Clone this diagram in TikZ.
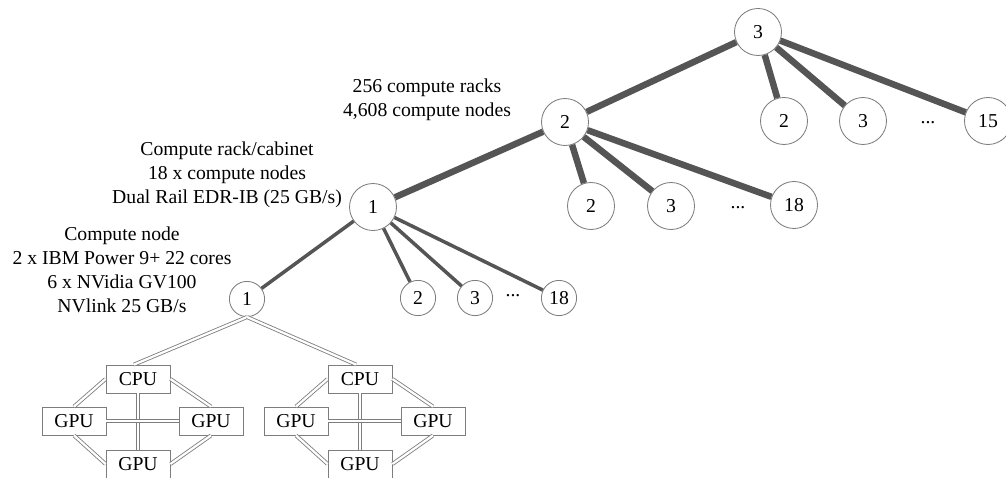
\documentclass[tikz,border=0pt]{standalone}
\usepackage{fontspec}
\setmainfont{Liberation Serif}
\usetikzlibrary{positioning}
\definecolor{linkc}{RGB}{85,85,85}
\definecolor{ringc}{RGB}{125,125,125}

\begin{document}
\begin{tikzpicture}
\tikzstyle{big}=[circle,draw=ringc,line width=0.6pt,minimum size=1.175cm,inner sep=0pt,font=\fontsize{14}{16}\selectfont];
\tikzstyle{small}=[circle,draw=ringc,line width=0.6pt,minimum size=0.88cm,inner sep=0pt,font=\fontsize{14}{16}\selectfont];
\tikzstyle{chip}=[draw=ringc,line width=0.6pt,minimum width=1.6cm,minimum height=0.7cm,inner sep=0pt,font=\fontsize{14}{16}\selectfont];
\tikzstyle{lbl}=[align=center,font=\fontsize{14}{17}\selectfont];
\tikzstyle{fat}=[draw=linkc,line width=4.6pt];
\tikzstyle{thin}=[draw=linkc,line width=2.5pt];
\tikzstyle{bus}=[draw=ringc,line width=0.6pt,double=white,double distance=1.6pt];

\useasboundingbox (0,0) rectangle (25.15,-11.925);

% switch levels
\node[big] (r3) at (18.95,-0.8) {3};
\node[big] (a2) at (19.6,-3.025) {2};
\node[big] (a3) at (21.575,-3.025) {3};
\node[lbl] (adots) at (23.2,-3.075) {...};
\node[big] (a15) at (24.7,-3.025) {15};

\node[big] (r2) at (14.125,-3.05) {2};
\node[big] (b2) at (14.775,-5.15) {2};
\node[big] (b3) at (16.775,-5.15) {3};
\node[lbl] (bdots) at (18.45,-5.2) {...};
\node[big] (b18) at (19.85,-5.125) {18};

\node[big] (r1) at (9.325,-5.175) {1};
\node[small] (c2) at (10.45,-7.45) {2};
\node[small] (c3) at (11.875,-7.45) {3};
\node[lbl] (cdots) at (12.825,-7.4) {...};
\node[small] (c18) at (13.975,-7.45) {18};

\node[small] (n1) at (6.175,-7.475) {1};

% labels
\node[lbl] (lab2) at (10.675,-2.5) {256 compute racks\\4,608 compute nodes};
\node[lbl] (lab1) at (5.675,-4.375) {Compute rack/cabinet\\18 x compute nodes\\Dual Rail EDR-IB (25 GB/s)};
\node[lbl] (lab0) at (3.05,-6.75) {Compute node\\2 x IBM Power 9+ 22 cores\\6 x NVidia GV100\\NVlink 25 GB/s};

% links
\foreach \t in {r2,a2,a3,a15}
  \draw[fat] (r3) -- (\t);
\foreach \t in {r1,b2,b3,b18}
  \draw[fat] (r2) -- (\t);
\foreach \t in {n1,c2,c3,c18}
  \draw[thin] (r1) -- (\t);

% sockets
\foreach \g/\x in {1/0,2/5.55}
{
  \node[chip] (cpu\g) at (3.45+\x,-9.475) {CPU};
  \node[chip] (gpul\g) at (1.85+\x,-10.525) {GPU};
  \node[chip] (gpur\g) at (5.275+\x,-10.525) {GPU};
  \node[chip] (gpub\g) at (3.45+\x,-11.6) {GPU};

  \draw[bus] (n1.south) -- ([xshift=-0.1cm]cpu\g.north);
  \draw[bus] (cpu\g.west) -- (gpul\g.north);
  \draw[bus] (cpu\g.east) -- (gpur\g.north);
  \draw[bus] (gpul\g.south) -- (gpub\g.west);
  \draw[bus] (gpur\g.south) -- (gpub\g.east);
  \draw[bus] (cpu\g.south) -- (gpub\g.north);
  \draw[bus] (gpul\g.east) -- (gpur\g.west);
}

\end{tikzpicture}
\end{document}
